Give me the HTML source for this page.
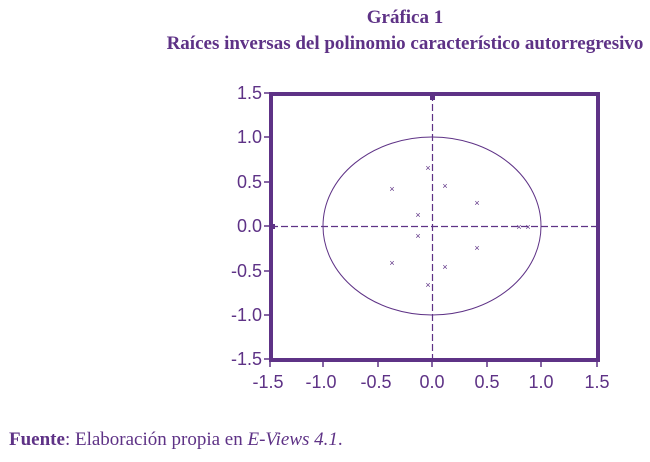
<!DOCTYPE html>
<html><head><meta charset="utf-8"><style>
body{margin:0;background:#fff;width:650px;height:457px;overflow:hidden}
</style></head><body>
<svg width="650" height="457" xmlns="http://www.w3.org/2000/svg">
<g fill="#5e3286" font-family="Liberation Serif, serif" font-weight="bold" font-size="19" text-anchor="middle">
<text x="405" y="23">Gráfica 1</text>
<text x="405" y="49">Raíces inversas del polinomio característico autorregresivo</text>
</g>
<g stroke="#5e3286" fill="none">
<rect x="271" y="94" width="327" height="266" stroke-width="4"/>
<line x1="271" y1="226.5" x2="598" y2="226.5" stroke-width="1.2" stroke-dasharray="7,3"/>
<line x1="432.5" y1="94" x2="432.5" y2="360" stroke-width="1.2" stroke-dasharray="7,3"/>
<ellipse cx="432" cy="226" rx="109" ry="89" stroke-width="1"/>
<g stroke-width="1.5">
<line x1="264" y1="93" x2="271" y2="93"/><line x1="264" y1="137" x2="271" y2="137"/><line x1="264" y1="182" x2="271" y2="182"/><line x1="264" y1="226" x2="271" y2="226"/><line x1="264" y1="271" x2="271" y2="271"/><line x1="264" y1="315" x2="271" y2="315"/><line x1="264" y1="359" x2="271" y2="359"/>
<line x1="270" y1="360" x2="270" y2="367"/><line x1="323" y1="360" x2="323" y2="367"/><line x1="378" y1="360" x2="378" y2="367"/><line x1="432" y1="360" x2="432" y2="367"/><line x1="487" y1="360" x2="487" y2="367"/><line x1="541" y1="360" x2="541" y2="367"/><line x1="597" y1="360" x2="597" y2="367"/>
</g>
</g>
<rect x="270" y="224" width="5" height="5" fill="#5e3286"/>
<rect x="430" y="95" width="5" height="5" fill="#5e3286"/>
<g fill="#5e3286" font-family="Liberation Sans, sans-serif" font-size="18">
<g text-anchor="end">
<text x="262" y="99">1.5</text><text x="262" y="143">1.0</text><text x="262" y="188">0.5</text><text x="262" y="232">0.0</text><text x="262" y="277">-0.5</text><text x="262" y="321">-1.0</text><text x="262" y="365">-1.5</text>
</g>
<g text-anchor="middle">
<text x="268" y="388">-1.5</text><text x="321" y="388">-1.0</text><text x="376" y="388">-0.5</text><text x="432" y="388">0.0</text><text x="487" y="388">0.5</text><text x="541" y="388">1.0</text><text x="597" y="388">1.5</text>
</g>
</g>
<g fill="#5e3286" font-family="Liberation Sans, sans-serif" font-size="9" text-anchor="middle">
<text x="392" y="192">×</text><text x="428" y="171">×</text><text x="445" y="189">×</text><text x="477" y="206">×</text><text x="418" y="218">×</text><text x="418" y="239">×</text><text x="519" y="230">×</text><text x="528" y="230">×</text><text x="477" y="251">×</text><text x="445" y="270">×</text><text x="428" y="288">×</text><text x="392" y="266">×</text>
</g>
<text x="9" y="445" fill="#5e3286" font-family="Liberation Serif, serif" font-size="19"><tspan font-weight="bold">Fuente</tspan>: Elaboración propia en <tspan font-style="italic">E-Views 4.1</tspan>.</text>
</svg>
</body></html>
